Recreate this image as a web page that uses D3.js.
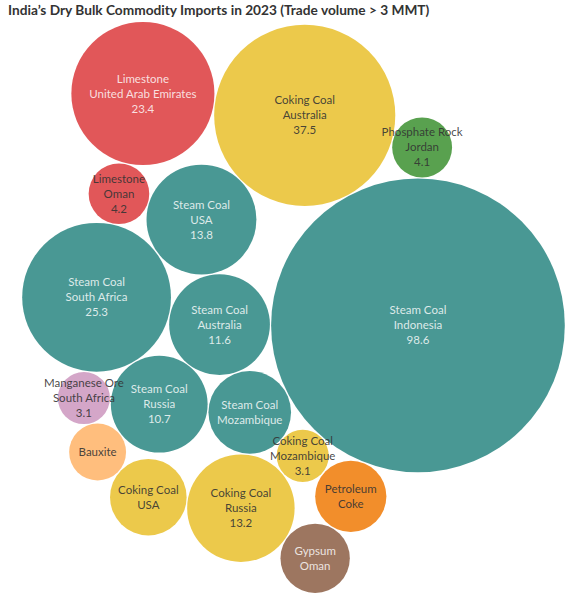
<!DOCTYPE html>
<html>
<head>
<meta charset="utf-8">
<script src="https://cdn.jsdelivr.net/npm/d3@7"></script>
<style>
  body { margin: 0; background: #fff; }
  svg { display: block; }
</style>
</head>
<body>
<div id="chart"></div>
<script>
// imports in million metric tonnes, one entry per bubble
const commodities = ["Steam Coal", "Coking Coal", "Steam Coal", "Limestone", "Steam Coal", "Coking Coal",
  "Steam Coal", "Steam Coal", "Steam Coal", "Coking Coal", "Petroleum Coke", "Gypsum", "Limestone",
  "Phosphate Rock", "Bauxite", "Manganese Ore", "Coking Coal"];
const countries = ["Indonesia", "Australia", "South Africa", "United Arab Emirates", "USA", "Russia",
  "Australia", "Russia", "Mozambique", "USA", "", "Oman", "Oman",
  "Jordan", "", "South Africa", "Mozambique"];
const volumes = [98.6, 37.5, 25.3, 23.4, 13.8, 13.2, 11.6, 10.7, 7.8, 6.7, 5.8, 5.5, 4.2, 4.1, 3.7, 3.1, 3.1];
// bubbles whose value label Tableau left out
const valueHidden = [false, false, false, false, false, false, false, false, true, true, true, true, false,
  false, true, false, false];

// packing: which two bubbles each one leans on, and on which side of them
// [bubble, neighbour a, neighbour b, side]
const anchor = 6;
const firstNeighbour = 2;
const firstAngle = -167.5; // degrees, from anchor to first neighbour
const tangency = [
  [4, 6, 2, 1], [12, 2, 4, -1], [7, 6, 2, -1], [8, 6, 7, -1], [0, 6, 8, -1],
  [1, 0, 4, 1], [3, 1, 12, 1], [13, 0, 1, 1], [16, 0, 8, -1], [5, 8, 16, 1],
  [10, 0, 16, -1], [11, 5, 10, 1], [15, 2, 7, 1], [14, 15, 7, 1], [9, 14, 5, 1]
];

const commodityNames = ["Steam Coal", "Coking Coal", "Limestone", "Phosphate Rock", "Manganese Ore",
  "Bauxite", "Petroleum Coke", "Gypsum"];
const commodityColors = ["#499894", "#ecc94b", "#e15759", "#59a14f", "#d4a6c8", "#ffbe7d", "#f28e2b", "#9d7660"];
const darkFills = ["Steam Coal", "Limestone", "Gypsum"];

const width = 578;
const height = 593;
const topY = 22;
const offsetX = 4.5;
const gap = 1.2;

const color = d3.scaleOrdinal().domain(commodityNames).range(commodityColors);
const rScale = d3.scaleSqrt().domain([0, d3.max(volumes)]).range([0, 147.4]);

const nodes = volumes.map((v, i) => ({ i, v, r: rScale(v) }));

// place the anchor and its first neighbour, then each bubble against its two neighbours
const first = nodes[anchor], second = nodes[firstNeighbour];
first.x = 0; first.y = 0;
const a0 = firstAngle * Math.PI / 180;
second.x = (first.r + second.r + gap) * Math.cos(a0);
second.y = (first.r + second.r + gap) * Math.sin(a0);

tangency.forEach(([c, p, q, side]) => {
  const P = nodes[p], Q = nodes[q], C = nodes[c];
  const ux = Q.x - P.x, uy = Q.y - P.y;
  const D = Math.hypot(ux, uy);
  const d1 = P.r + C.r + gap, d2 = Q.r + C.r + gap;
  const along = (d1 * d1 - d2 * d2 + D * D) / (2 * D);
  const h = Math.sqrt(Math.max(0, d1 * d1 - along * along));
  C.x = P.x + along * ux / D + side * h * (-uy) / D;
  C.y = P.y + along * uy / D + side * h * ux / D;
});

const minX = d3.min(nodes, d => d.x - d.r), maxX = d3.max(nodes, d => d.x + d.r);
const minY = d3.min(nodes, d => d.y - d.r), maxY = d3.max(nodes, d => d.y + d.r);
const availH = height - topY;
const k = Math.min(width / (maxX - minX), availH / (maxY - minY));
const cx = (minX + maxX) / 2, cy = (minY + maxY) / 2;

const x = d3.scaleLinear().domain([cx - width / (2 * k), cx + width / (2 * k)]).range([offsetX, width + offsetX]);
const y = d3.scaleLinear().domain([cy - availH / (2 * k), cy + availH / (2 * k)]).range([topY, height]);

const svg = d3.select("#chart")
  .append("svg")
  .attr("width", width)
  .attr("height", height);

svg.append("text")
  .attr("x", 8)
  .attr("y", 15)
  .style("font-family", "Lato, 'Open Sans', sans-serif")
  .style("font-size", "13.7px")
  .style("font-weight", "bold")
  .style("fill", "#333")
  .text("India\u2019s Dry Bulk Commodity Imports in 2023 (Trade volume > 3 MMT)");

const bubble = svg.append("g")
  .selectAll("g")
  .data(nodes)
  .join("g")
  .attr("transform", d => `translate(${x(d.x)},${y(d.y)})`);

bubble.append("circle")
  .attr("r", d => d.r * k)
  .attr("fill", d => color(commodities[d.i]));

const label = bubble.append("text")
  .attr("text-anchor", "middle")
  .style("font-family", "Lato, 'Open Sans', sans-serif")
  .style("font-size", "11.5px");

label.each(function(d) {
  // with no country, the commodity name wraps word by word
  const lines = countries[d.i] ? [commodities[d.i], countries[d.i]] : commodities[d.i].split(" ");
  if (!valueHidden[d.i]) lines.push(d3.format(".1f")(volumes[d.i]));
  const t = d3.select(this);
  lines.forEach((s, j) => {
    t.append("tspan")
      .attr("x", 0)
      .attr("y", (j - (lines.length - 1) / 2) * 15)
      .attr("dy", "0.35em")
      .text(s);
  });
  const box = this.getBBox();
  const rr = d.r * k;
  const fits = (box.width / 2) ** 2 + (box.height / 2) ** 2 <= rr * rr;
  const light = darkFills.includes(commodities[d.i]) && fits;
  t.style("fill", light ? "#ffffff" : "#333333")
    .style("fill-opacity", light ? 0.82 : 0.9);
});
</script>
</body>
</html>
